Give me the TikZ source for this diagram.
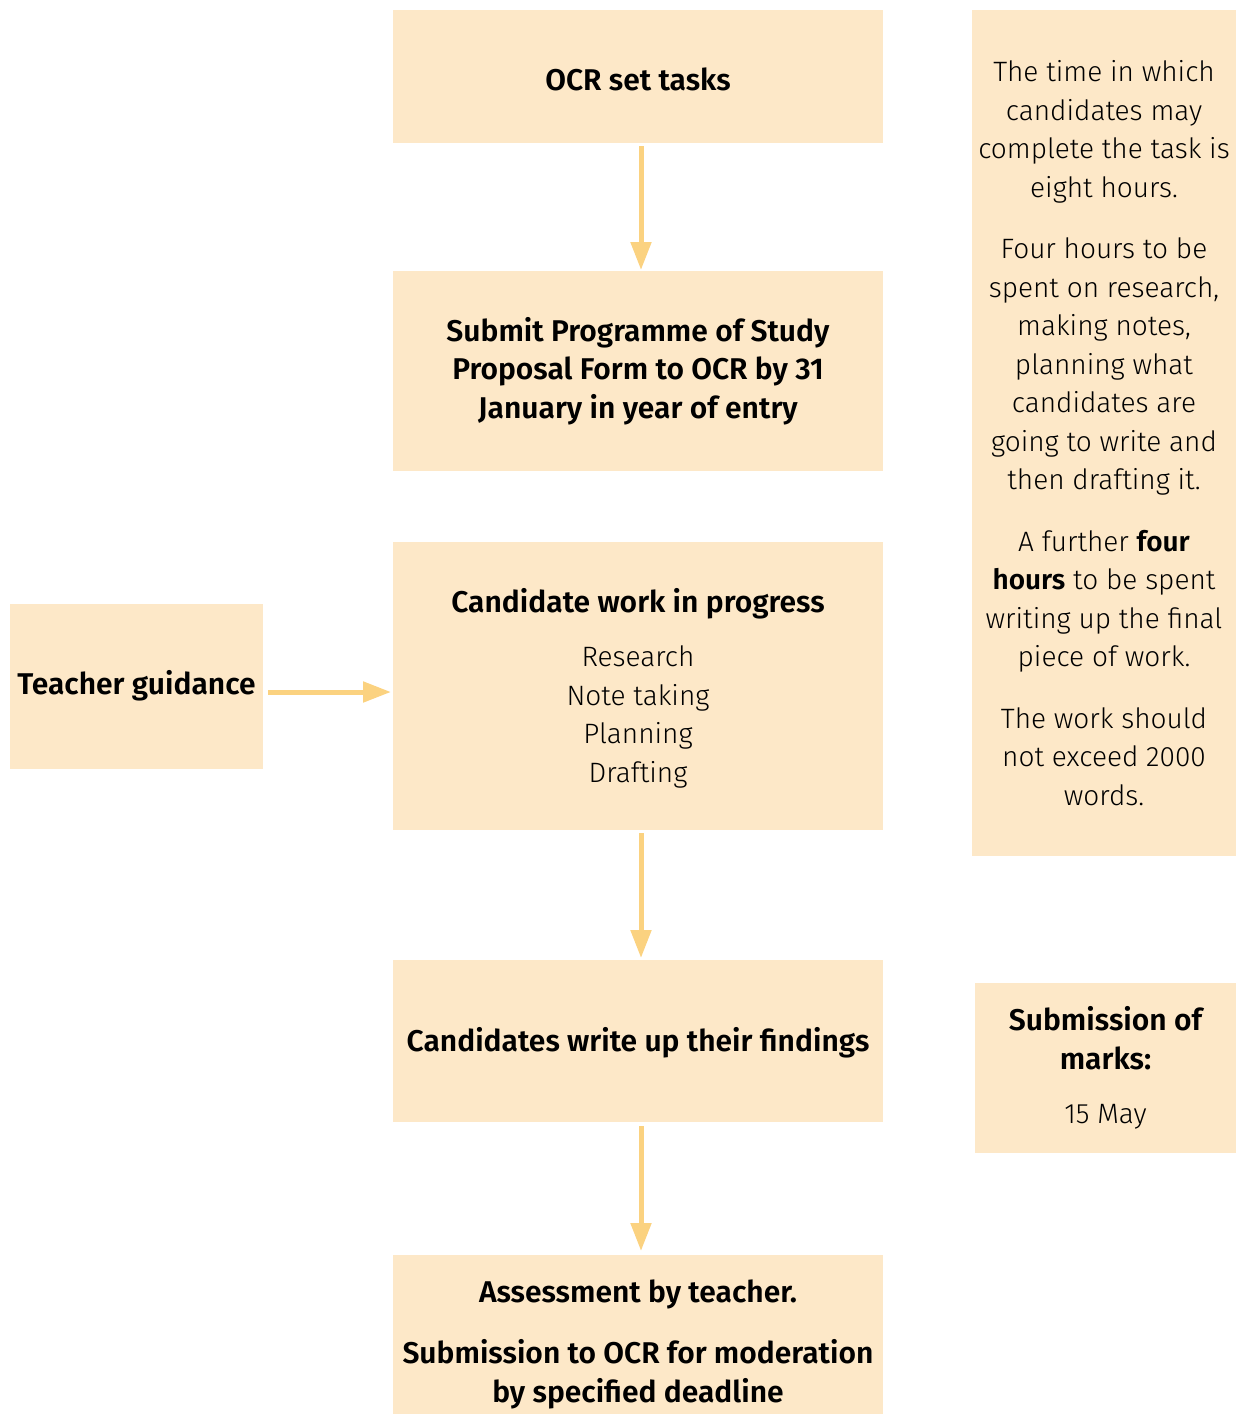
\documentclass[tikz,border=0pt]{standalone}
\usepackage{fontspec}
\setmainfont{Fira Sans}[UprightFont=* Light, BoldFont=* SemiBold]
\usetikzlibrary{positioning,arrows.meta}
\definecolor{boxfill}{RGB}{253,232,200}
\definecolor{arrowline}{RGB}{251,210,128}
\newcommand{\boldline}[1]{{\fontsize{15}{19.25}\selectfont\bfseries #1}}

\begin{document}
\begin{tikzpicture}[x=0.5pt, y=-0.5pt,
    every node/.style={fill=boxfill, align=center, inner sep=0pt, outer sep=0pt, font=\fontsize{14}{19.25}\selectfont},
    heading/.style={font=\fontsize{15}{19.25}\selectfont\bfseries},
    flow/.style={draw=arrowline, line width=2.5pt, -{Triangle[length=14pt, width=10pt]}}]

        \useasboundingbox (0,0) rectangle (1236,1414);

        %Nodes
        \node   (tasks) [heading, anchor=north west, minimum width=245pt, minimum height=66.5pt] at (393,10) {\rule{0pt}{14pt}OCR set tasks};
        \node   (proposal) [heading, below=64pt of tasks, minimum width=245pt, minimum height=100pt] {Submit Programme of Study\\ Proposal Form to OCR by 31\\ January in year of entry};
        \node   (work) [below=35.5pt of proposal, minimum width=245pt, minimum height=144pt] {\rule{0pt}{14pt}\boldline{Candidate work in progress}\\[8pt] Research\\ Note taking\\ Planning\\ Drafting};
        \node   (guidance) [heading, left=65pt of work, minimum width=126.5pt, minimum height=82.5pt] {Teacher guidance};
        \node   (findings) [heading, below=65pt of work, minimum width=245pt, minimum height=81pt] {\rule{0pt}{14pt}Candidates write up their findings};
        \node   (assessment) [heading, below=66.5pt of findings, minimum width=245pt, minimum height=79.5pt] {\rule{0pt}{21pt}Assessment by teacher.\\[11.5pt] Submission to OCR for moderation\\ by specified deadline};
        \node   (time) [right=44.5pt of tasks.north east, anchor=north west, minimum width=132pt, minimum height=423pt] {The time in which\\ candidates may\\ complete the task is\\ eight hours.\\[11.5pt] Four hours to be\\ spent on research,\\ making notes,\\ planning what\\ candidates are\\ going to write and\\ then drafting it.\\[11.5pt] A further \textbf{four}\\ \textbf{hours} to be spent\\ writing up the final\\ piece of work.\\[11.5pt] The work should\\ not exceed 2000\\ words.};
        \node   (marks) [below=63.5pt of time.south east, anchor=north east, minimum width=130.5pt, minimum height=85pt] {\boldline{Submission of}\\ \boldline{marks:}\\[8pt] 15 May};

        %Lines
        \draw[flow, shorten <=1.5pt, shorten >=0.5pt] ([xshift=1.5pt]tasks.south) -- ([xshift=1.5pt]proposal.north);
        \draw[flow, shorten <=2.5pt, shorten >=1pt] ([yshift=-3pt]guidance.east) -- ([yshift=-3pt]work.west);
        \draw[flow, shorten <=1.5pt, shorten >=1pt] ([xshift=1.5pt]work.south) -- ([xshift=1.5pt]findings.north);
        \draw[flow, shorten <=2pt, shorten >=2pt] ([xshift=1.5pt]findings.south) -- ([xshift=1.5pt]assessment.north);

\end{tikzpicture}
\end{document}
